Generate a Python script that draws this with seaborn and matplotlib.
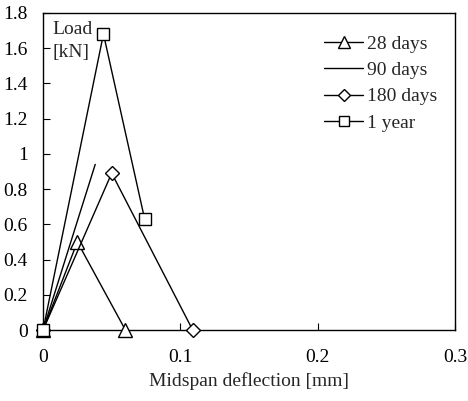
import numpy as np
import pandas as pd
import seaborn as sns
import matplotlib.pyplot as plt

# values
d28_x = [0.0, 0.025, 0.06]
d28_y = [0.0, 0.50, 0.0]
d90_x = [0.0, 0.038]
d90_y = [0.0, 0.94]
d180_x = [0.0, 0.05, 0.109]
d180_y = [0.0, 0.89, 0.0]
y1_x = [0.0, 0.044, 0.074]
y1_y = [0.0, 1.68, 0.63]

series_names = ['28 days', '90 days', '180 days', '1 year']
xticks = [0, 0.1, 0.2, 0.3]
xtick_labels = ['0', '0.1', '0.2', '0.3']
yticks = [0, 0.2, 0.4, 0.6, 0.8, 1.0, 1.2, 1.4, 1.6, 1.8]
ytick_labels = ['0', '0.2', '0.4', '0.6', '0.8', '1', '1.2', '1.4', '1.6', '1.8']

frames = []
for name, xs, ys in zip(series_names, [d28_x, d90_x, d180_x, y1_x], [d28_y, d90_y, d180_y, y1_y]):
    frames.append(pd.DataFrame({'x': xs, 'y': ys, 'age': name}))
df = pd.concat(frames, ignore_index=True)

sns.set_style('ticks')
plt.rcParams['font.family'] = ['Liberation Serif', 'DejaVu Serif']

fig = plt.figure(figsize=(4.68, 4.01), dpi=100)
ax = fig.add_axes([0.092, 0.177, 0.88, 0.791])

markers = {'28 days': '^', '90 days': '', '180 days': 'D', '1 year': 's'}
msize = {'28 days': 10, '90 days': 0, '180 days': 7, '1 year': 9}
for name in series_names:
    sub = df[df['age'] == name]
    mk = markers[name]
    sns.lineplot(data=sub, x='x', y='y', sort=False, ax=ax, color='black', lw=1.0,
                 marker=mk if mk else None, markersize=msize[name],
                 markerfacecolor='white', markeredgecolor='black', markeredgewidth=1.0,
                 label=name, legend=False, clip_on=False, zorder=3)

ax.set_xlim(0, 0.3)
ax.set_ylim(0, 1.8)
ax.set_xticks(xticks)
ax.set_xticklabels(xtick_labels)
ax.set_yticks(yticks)
ax.set_yticklabels(ytick_labels)
ax.tick_params(direction='in', length=5, labelsize=14, colors='black')
ax.tick_params(axis='y', pad=11)
ax.tick_params(axis='x', pad=14)
for sp in ax.spines.values():
    sp.set_color('black')
    sp.set_linewidth(1.0)

ax.set_xlabel('Midspan deflection [mm]', fontsize=14, labelpad=4)
ax.set_ylabel('')
ax.text(0.022, 0.975, 'Load\n[kN]', transform=ax.transAxes, ha='left', va='top',
        fontsize=14, linespacing=1.5)

handles, labels = ax.get_legend_handles_labels()
ax.legend(handles, labels, loc='upper right', frameon=False, fontsize=14,
          handlelength=2.0, handletextpad=0.2, labelspacing=0.45, markerscale=0.85,
          bbox_to_anchor=(1.0, 0.985))

fig.savefig('out.png', dpi=100)
